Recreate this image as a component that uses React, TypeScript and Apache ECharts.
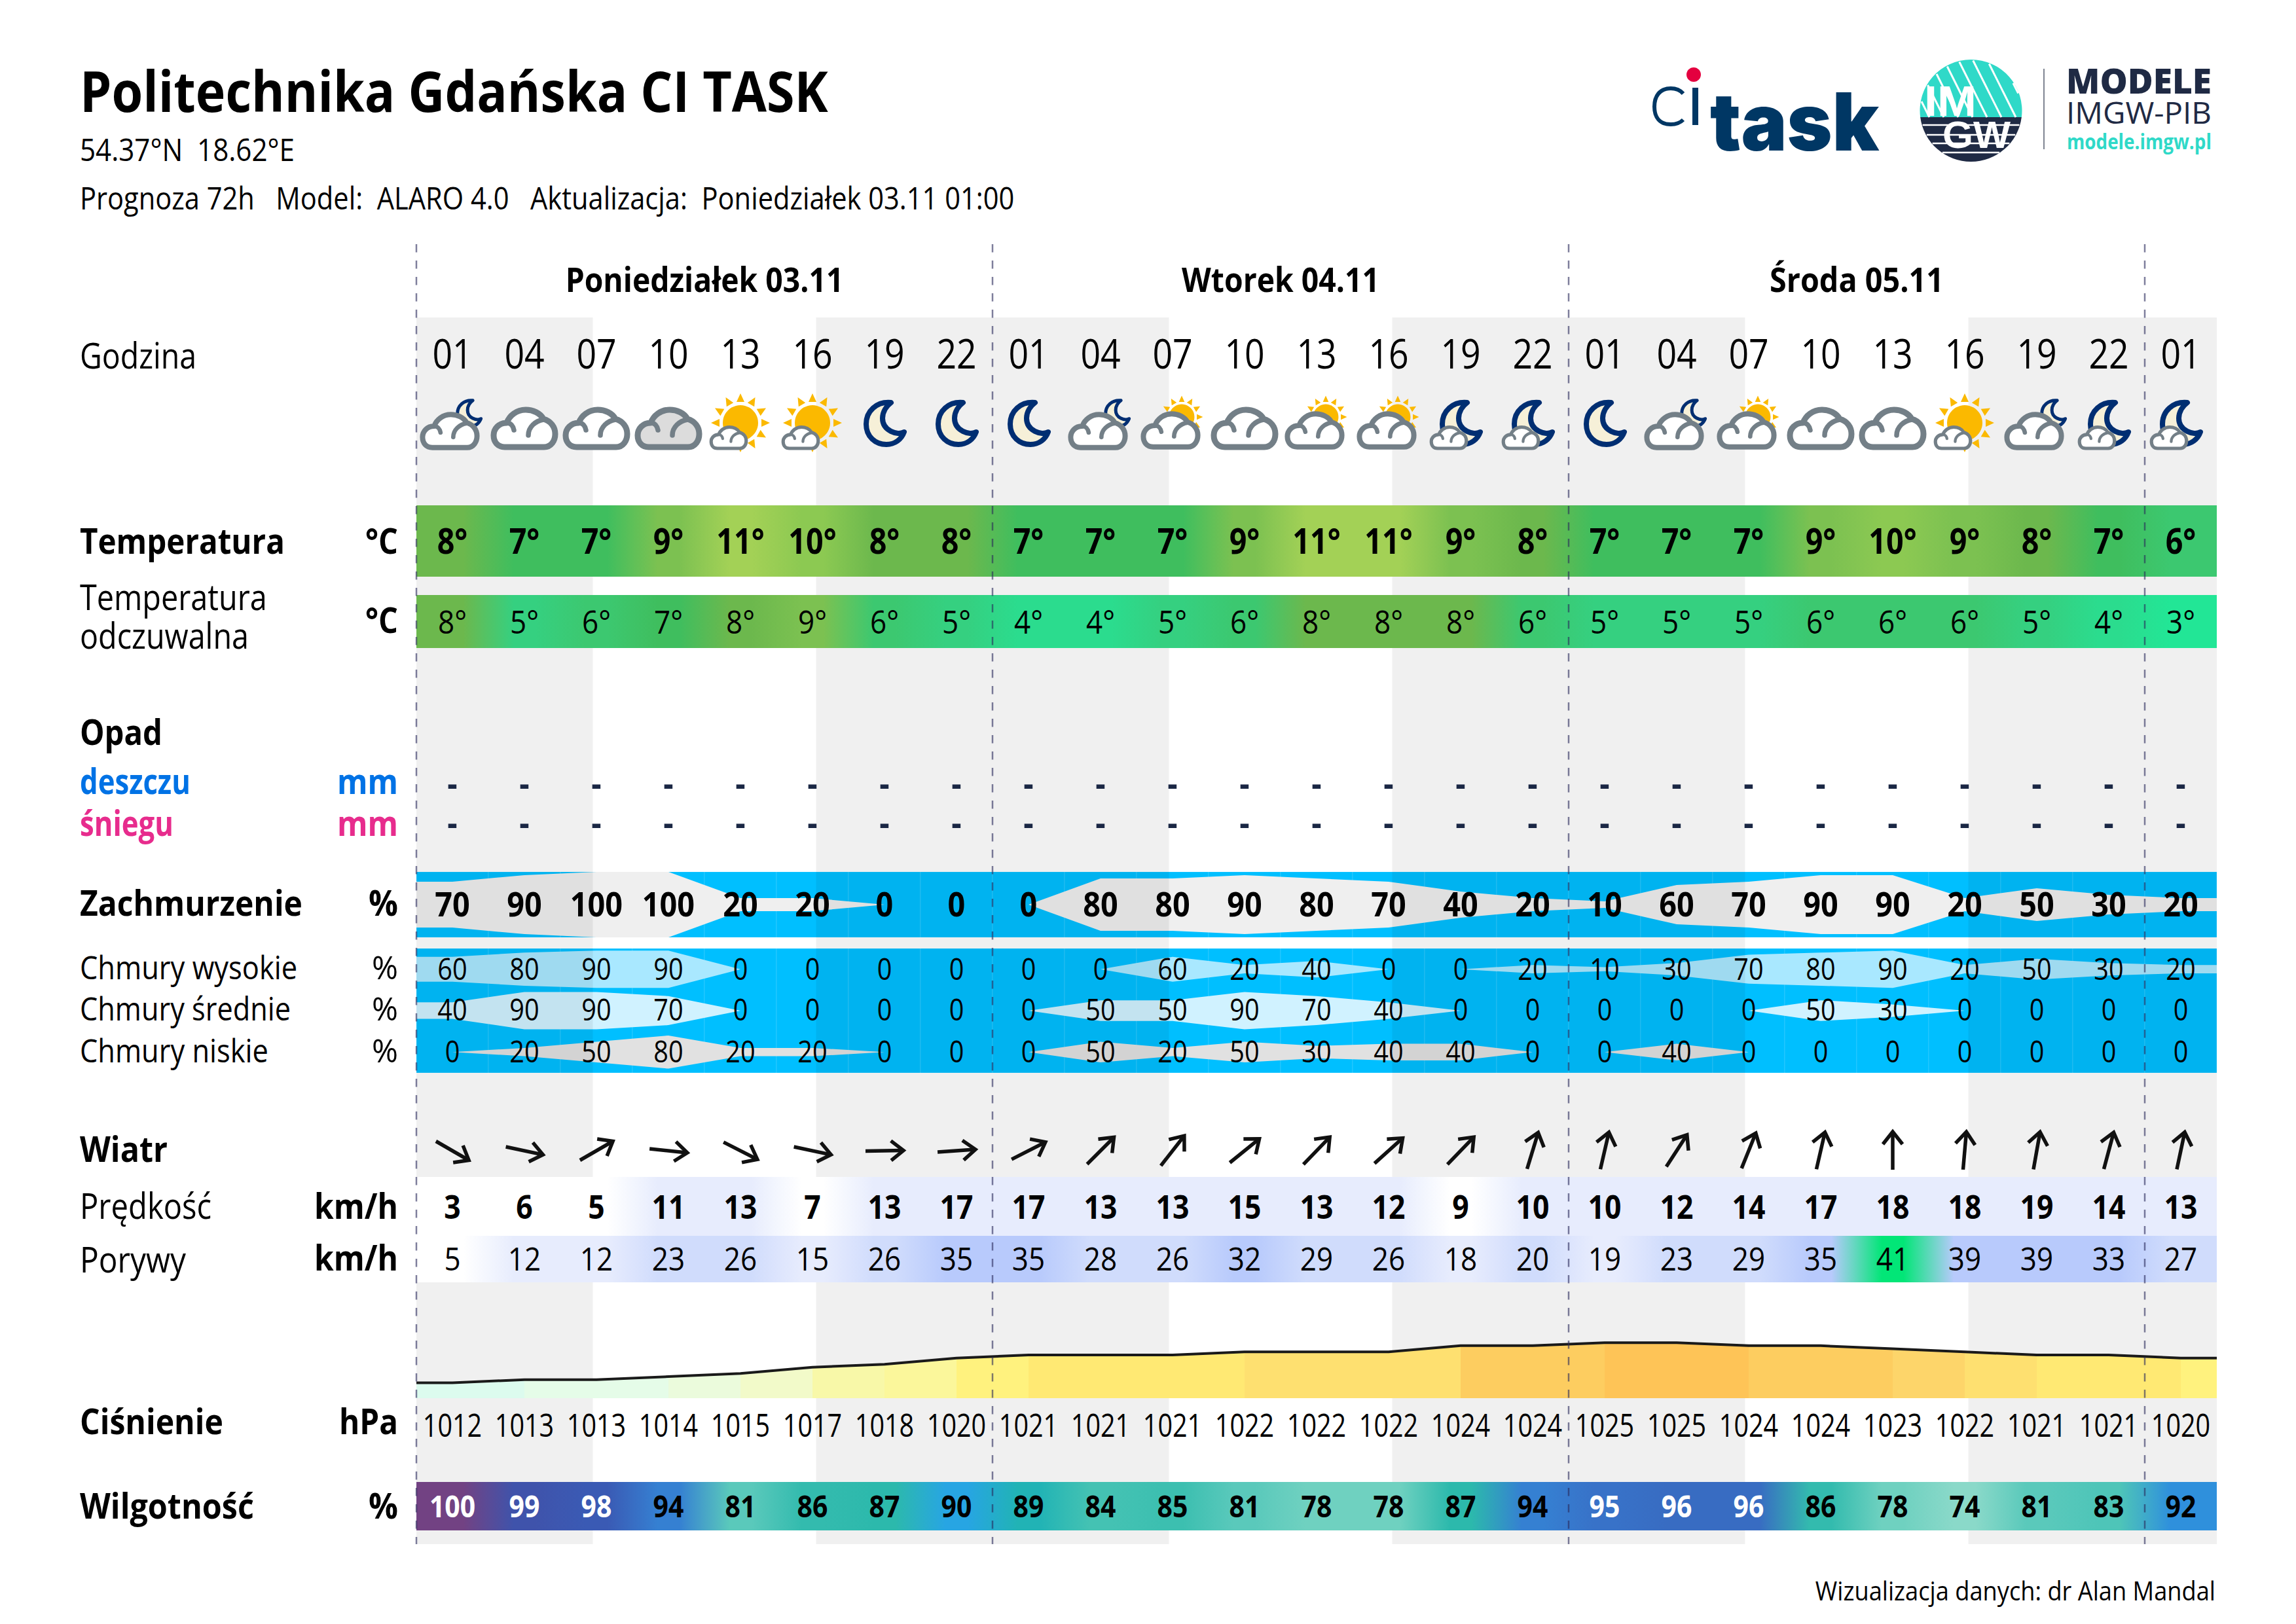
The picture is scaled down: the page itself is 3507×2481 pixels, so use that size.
import React, { useEffect, useRef } from "react";
import * as echarts from "echarts";

const hours = ["01","04","07","10","13","16","19","22","01","04","07","10","13","16","19","22","01","04","07","10","13","16","19","22","01"];
const iconKinds = ["cm","c","c","g","s","s","m","m","m","cm","cs","c","cs","cs","mc","mc","m","cm","cs","c","c","s","cm","mc","mc"];
const dayLabels = ["Poniedziałek 03.11","Wtorek 04.11","Środa 05.11"];
const dayCentres = [4, 12, 20];
const dayWidths = [425, 302, 266];
const dayBoundaries = [0, 8, 16, 24];
const nightSpans = [[0, 2.45],[5.55, 10.45],[13.55, 18.45],[21.55, 25]];
const temperature = [8,7,7,9,11,10,8,8,7,7,7,9,11,11,9,8,7,7,7,9,10,9,8,7,6];
const feelsLike = [8,5,6,7,8,9,6,5,4,4,5,6,8,8,8,6,5,5,5,6,6,6,5,4,3];
const rain = hours.map(() => "-");
const snow = hours.map(() => "-");
const cloudTotal = [70,90,100,100,20,20,0,0,0,80,80,90,80,70,40,20,10,60,70,90,90,20,50,30,20];
const cloudHigh = [60,80,90,90,0,0,0,0,0,0,60,20,40,0,0,20,10,30,70,80,90,20,50,30,20];
const cloudMid = [40,90,90,70,0,0,0,0,0,50,50,90,70,40,0,0,0,0,0,50,30,0,0,0,0];
const cloudLow = [0,20,50,80,20,20,0,0,0,50,20,50,30,40,40,0,0,40,0,0,0,0,0,0,0];
const windAngle = [30,12,-30,6,27,12,-1,-4,-27,-45,-52,-39,-46,-42,-46,-73,-77,-57,-68,-77,-90,-85,-80,-75,-78];
const windSpeed = [3,6,5,11,13,7,13,17,17,13,13,15,13,12,9,10,10,12,14,17,18,18,19,14,13];
const windGust = [5,12,12,23,26,15,26,35,35,28,26,32,29,26,18,20,19,23,29,35,41,39,39,33,27];
const pressure = [1012,1013,1013,1014,1015,1017,1018,1020,1021,1021,1021,1022,1022,1022,1024,1024,1025,1025,1024,1024,1023,1022,1021,1021,1020];
const humidity = [100,99,98,94,81,86,87,90,89,84,85,81,78,78,87,94,95,96,96,86,78,74,81,83,92];

const tempColors: Record<number,string> = {3:"#22e696",4:"#2bdc8e",5:"#35d080",6:"#3cc870",7:"#3fbe5e",8:"#6cb84d",9:"#7cc151",10:"#8cc952",11:"#a3d156"};
const humColors: Record<number,string> = {100:"#724283",99:"#3f53ab",98:"#3a5ab4",96:"#386cc2",95:"#3872c8",94:"#3580d2",92:"#2f90dc",90:"#27a5e3",89:"#21b3b5",87:"#2cb9ac",86:"#33bbae",85:"#3cbfb0",84:"#44c2b3",83:"#4ec5b8",81:"#5ac9bb",78:"#6fd1c0",74:"#8ad9c9"};
const pressColors: Record<number,string> = {1012:"#dcfbee",1013:"#e5fce8",1014:"#ebfbdc",1015:"#f2fac9",1017:"#f8f8a8",1018:"#fbf79b",1020:"#fff27e",1021:"#ffe973",1022:"#fee070",1023:"#fdd56a",1024:"#fdcd60",1025:"#fec457"};
const windColor = (v: number) => v >= 40 ? "#02e677" : v >= 30 ? "#b8cafc" : v >= 20 ? "#d0dcfc" : v >= 10 ? "#e7ecfd" : "#ffffff";

const FONT = '"Open Sans"';
const LEFT = 636, WIDTH = 2750, COLS = 25;
const NAVY = "#1f2a44", TEAL = "#2fd9c8", TASK = "#003764";

const ctx = document.createElement("canvas").getContext("2d") as CanvasRenderingContext2D;
function fit(text: string, size: number, bold: boolean | string, width: number, family = FONT) {
  ctx.font = `${bold === true ? "bold" : bold === false ? "normal" : bold} ${size}px ${family}`;
  return width / ctx.measureText(text).width;
}
function textEl(x: number, baseline: number, text: string, o: any) {
  const size = o.size;
  return {
    type: "text", x, y: baseline - size * 0.388, scaleX: o.sx ?? 1, scaleY: o.sy ?? 1, silent: true,
    style: {
      text, fill: o.fill ?? "#000", fontFamily: o.family ?? FONT, fontSize: size, fontWeight: o.weight ?? (o.bold ? "bold" : "normal"),
      align: o.align ?? "left", textAlign: o.align ?? "left", verticalAlign: "middle", textVerticalAlign: "middle",
    },
  };
}

function mix(a: string, b: string, t: number) {
  const p = (h: string) => [1, 3, 5].map((k) => parseInt(h.slice(k, k + 2), 16));
  const A = p(a), B = p(b);
  return "rgb(" + A.map((v, i) => Math.round(v + (B[i] - v) * t)).join(",") + ")";
}

const CLOUD = "M -30 28 L 30 28 C 41 28 47 18 47 8 C 47 -3 40 -12 29 -15 C 24 -24 13 -29 2 -29 C -12 -29 -23 -20 -27 -9 C -39 -9 -47 0 -47 10 C -47 20 -41 28 -30 28 Z";
const CLOUD_ARCS = "M -27 -9 C -21 -9 -17 -4 -16 2 M 6 10 C 6 -3 17 -12 29 -14";
const MOON = "M 10 -31 C -12 -33 -28 -18 -28 2 C -28 21 -14 33 3 33 C 16 33 26 25 30 14 C 20 20 -3 12 -3 -7 C -3 -17 3 -26 10 -31 Z";
const RAYS = Array.from({ length: 12 }, (_, k) => {
  const a = (k * Math.PI) / 6, c = Math.cos(a), s = Math.sin(a);
  const f = (n: number) => n.toFixed(1);
  return `M ${f(45 * c)} ${f(45 * s)} L ${f(32 * c - 6 * s)} ${f(32 * s + 6 * c)} L ${f(32 * c + 6 * s)} ${f(32 * s - 6 * c)} Z`;
}).join(" ");

function cloudEl(dx: number, dy: number, s: number, fill: string) {
  return { type: "group", x: dx, y: dy, scaleX: s, scaleY: s, children: [
    { type: "path", shape: { pathData: CLOUD }, style: { fill, stroke: "#737f87", lineWidth: 9, lineJoin: "round" } },
    { type: "path", shape: { pathData: CLOUD_ARCS }, style: { fill: "none", stroke: "#737f87", lineWidth: 7.5, lineCap: "round" } },
  ] };
}
function moonEl(dx: number, dy: number, s: number) {
  return { type: "group", x: dx, y: dy, scaleX: s, scaleY: s, children: [
    { type: "path", shape: { pathData: MOON }, style: { fill: "#f6f0d8", stroke: "#002e72", lineWidth: 8, lineJoin: "round" } },
  ] };
}
function sunEl(dx: number, dy: number, s: number) {
  return { type: "group", x: dx, y: dy, scaleX: s, scaleY: s, children: [
    { type: "circle", shape: { cx: 0, cy: 0, r: 27 }, style: { fill: "#fbb900" } },
    { type: "path", shape: { pathData: RAYS }, style: { fill: "#fbb900" } },
  ] };
}
function iconChildren(kind: string) {
  switch (kind) {
    case "c": return [cloudEl(0, 0, 1, "#ffffff")];
    case "g": return [cloudEl(0, 0, 1, "#dcdcdc")];
    case "m": return [moonEl(0, -9, 1)];
    case "s": return [sunEl(0, -9, 1), cloudEl(-18, 14, 0.57, "#ffffff")];
    case "cm": return [moonEl(25, -24, 0.62), cloudEl(-4, 4, 0.885, "#ffffff")];
    case "cs": return [sunEl(14, -18, 0.72), cloudEl(-3, 3, 0.885, "#ffffff")];
    default: return [moonEl(0, -9, 1), cloudEl(-18, 14, 0.57, "#ffffff")];
  }
}

const cx0 = 3010.5, cy0 = 169, R0 = 78, split = 179;
const dxSplit = Math.sqrt(R0 * R0 - (split - cy0) * (split - cy0));
echarts.graphic.registerShape("imgwTop", echarts.graphic.extendPath(`M ${cx0 - dxSplit} ${split} A ${R0} ${R0} 0 1 1 ${cx0 + dxSplit} ${split} Z`, {}));
echarts.graphic.registerShape("imgwBottom", echarts.graphic.extendPath(`M ${cx0 - dxSplit} ${split} A ${R0} ${R0} 0 0 0 ${cx0 + dxSplit} ${split} Z`, {}));
echarts.graphic.registerShape("ciC", echarts.graphic.extendPath("M 2571 143 C 2565 136 2558 135 2552 135 C 2535 135 2527 147 2527 163 C 2527 179 2535 190 2552 190 C 2558 190 2566 188 2571 183", {}));

function logoElements() {
  const els: any[] = [];
  els.push({ type: "ciC", x: 0, y: 0, silent: true, style: { fill: "none", stroke: TASK, lineWidth: 6 } });
  els.push({ type: "rect", shape: { x: 2585, y: 134, width: 9, height: 57 }, style: { fill: TASK } });
  els.push({ type: "ellipse", shape: { cx: 2587, cy: 114, rx: 11, ry: 11 }, style: { fill: "#e4003f" } });
  els.push(textEl(2612, 233, "task", { size: 122, weight: 900, family: "Inter", fill: TASK, sx: fit("task", 122, "900", 258, "Inter") }));
  els.push({ type: "imgwTop", x: 0, y: 0, style: { fill: TEAL } });
  els.push({ type: "imgwBottom", x: 0, y: 0, style: { fill: NAVY } });
  for (let k = -2; k < 11; k++) {
    const xb = 2925 + k * 22, m = 0.5;
    const pts: number[] = [];
    for (let y = cy0 - R0; y <= split; y += 0.5) {
      const x = xb - (split - y) * m;
      if ((x - cx0) ** 2 + (y - cy0) ** 2 <= (R0 - 1) ** 2) pts.push(y);
    }
    if (pts.length > 1) {
      const y1 = pts[0], y2 = pts[pts.length - 1];
      els.push({ type: "line", shape: { x1: xb - (split - y1) * m, y1, x2: xb - (split - y2) * m, y2 }, style: { stroke: "#ffffff", lineWidth: 3 } });
    }
  }
  [191, 206, 219, 233].forEach((y) => {
    const half = Math.sqrt(R0 * R0 - (y - cy0) * (y - cy0)) - 1;
    els.push({ type: "line", shape: { x1: cx0 - half, y1: y, x2: cx0 + half, y2: y }, style: { stroke: "#ffffff", lineWidth: 2.5 } });
  });
  const LS = '"Liberation Sans"';
  els.push(textEl(2979, 179, "IM", { size: 64, bold: true, family: LS, align: "center", fill: "#fff", sx: fit("IM", 64, true, 80, LS) }));
  els.push(textEl(3019, 228, "GW", { size: 57, bold: true, family: LS, align: "center", fill: "#fff", sx: fit("GW", 57, true, 104, LS) }));
  els.push({ type: "line", shape: { x1: 3122, y1: 105, x2: 3122, y2: 228 }, style: { stroke: "#555c6e", lineWidth: 1.5 } });
  els.push(textEl(3156, 143, "MODELE", { size: 53, weight: 800, fill: NAVY, sx: fit("MODELE", 53, "800", 222) }));
  els.push(textEl(3156, 189, "IMGW-PIB", { size: 46, weight: 400, fill: NAVY, sx: fit("IMGW-PIB", 46, "400", 222) }));
  els.push(textEl(3157, 228, "modele.imgw.pl", { size: 32, bold: true, fill: TEAL, sx: fit("modele.imgw.pl", 32, true, 221) }));
  return els;
}

function labelEls() {
  const rows: [string, number, number, boolean, number, string?][] = [
    ["Politechnika Gdańska CI TASK", 171, 87, true, 1143],
    ["54.37°N  18.62°E", 246, 47, false, 328],
    ["Prognoza 72h   Model:  ALARO 4.0   Aktualizacja:  Poniedziałek 03.11 01:00", 320, 47, false, 1428],
    ["Godzina", 563, 55, false, 178],
    ["Temperatura", 846, 53, true, 313],
    ["Temperatura", 932, 55, false, 286],
    ["odczuwalna", 991, 55, false, 258],
    ["Opad", 1138, 53, true, 126],
    ["deszczu", 1213, 53, true, 169, "#0072e5"],
    ["śniegu", 1277, 53, true, 143, "#e72c8d"],
    ["Zachmurzenie", 1399, 53, true, 340],
    ["Chmury wysokie", 1496, 50, false, 332],
    ["Chmury średnie", 1559, 50, false, 322],
    ["Chmury niskie", 1623, 50, false, 288],
    ["Wiatr", 1775, 53, true, 134],
    ["Prędkość", 1862, 55, false, 201],
    ["Porywy", 1944, 55, false, 162],
    ["Ciśnienie", 2191, 53, true, 219],
    ["Wilgotność", 2320, 53, true, 266],
  ];
  const units: [string, number, number, boolean, number, string?][] = [
    ["°C", 846, 53, true, 50],
    ["°C", 967, 53, true, 50],
    ["mm", 1213, 53, true, 93, "#0072e5"],
    ["mm", 1277, 53, true, 93, "#e72c8d"],
    ["%", 1399, 53, true, 45],
    ["%", 1496, 50, false, 40],
    ["%", 1559, 50, false, 40],
    ["%", 1623, 50, false, 40],
    ["km/h", 1862, 53, true, 128],
    ["km/h", 1941, 53, true, 128],
    ["hPa", 2191, 53, true, 90],
    ["%", 2320, 53, true, 45],
  ];
  const els = rows.map(([t, b, s, bold, w, c]) => textEl(122, b, t, { size: s, bold, fill: c ?? "#000", sx: fit(t, s, bold, w) }));
  units.forEach(([t, b, s, bold, w, c]) => els.push(textEl(608, b, t, { size: s, bold, align: "right", fill: c ?? "#000", sx: fit(t, s, bold, w) })));
  els.push(textEl(3384, 2445, "Wizualizacja danych: dr Alan Mandal", { size: 40, align: "right", sx: fit("Wizualizacja danych: dr Alan Mandal", 40, false, 611) }));
  return els;
}

const MAIN = { xAxisIndex: 0, yAxisIndex: 0, coordinateSystem: "cartesian2d", type: "custom", silent: true, clip: false };

function textSeries(strs: (string | number)[], baseline: number, o: any, z = 60) {
  return {
    ...MAIN, z,
    data: strs.map((_, i) => [i + 0.5, baseline]),
    renderItem: (p: any, api: any) => {
      const c = api.coord([api.value(0), api.value(1)]);
      const v = strs[p.dataIndex];
      return textEl(c[0], c[1], o.suffix ? v + o.suffix : String(v), { ...o, align: "center", fill: o.fillFn ? o.fillFn(v) : o.fill });
    },
  };
}
function gradientBand(values: number[], colorOf: (v: number) => string, top: number, bottom: number) {
  return {
    ...MAIN, z: 40,
    data: values.map((v, i) => [i, v]),
    renderItem: (p: any, api: any) => {
      const i = p.dataIndex;
      const a = api.coord([i, top]), b = api.coord([i + 1, bottom]);
      const cur = colorOf(values[i]);
      const prev = colorOf(values[Math.max(i - 1, 0)]), next = colorOf(values[Math.min(i + 1, COLS - 1)]);
      return {
        type: "rect", shape: { x: a[0], y: a[1], width: b[0] - a[0], height: b[1] - a[1] },
        style: { fill: { type: "linear", x: 0, y: 0, x2: 1, y2: 0, colorStops: [
          { offset: 0, color: mix(prev, cur, 0.5) }, { offset: 0.35, color: cur }, { offset: 0.65, color: cur }, { offset: 1, color: mix(cur, next, 0.5) },
        ] } },
      };
    },
  };
}
function cloudBase(top: number, bottom: number) {
  return {
    ...MAIN, z: 10,
    data: hours.map((_, i) => [i, top]),
    renderItem: (p: any, api: any) => {
      const a = api.coord([p.dataIndex, top]), b = api.coord([p.dataIndex + 1, bottom]);
      return { type: "rect", shape: { x: a[0], y: a[1], width: b[0] - a[0], height: b[1] - a[1] }, style: { fill: "#00bfff", stroke: "rgba(255,255,255,0.14)", lineWidth: 1 } };
    },
  };
}
// symmetric ribbon: half of the value above and half below the centre of the row
function cloudSeries(values: number[], idx: number, color: string) {
  const xs = [0, ...values.map((_, i) => i + 0.5), COLS];
  const vs = [values[0], ...values, values[values.length - 1]];
  return {
    type: "custom", coordinateSystem: "cartesian2d", xAxisIndex: idx, yAxisIndex: idx, silent: true, clip: false, z: 20,
    data: xs.slice(0, -1).map((x, i) => [x, vs[i]]),
    renderItem: (p: any, api: any) => {
      const i = p.dataIndex;
      if (vs[i] === 0 && vs[i + 1] === 0) return null;
      const pts = [
        api.coord([xs[i], 50 + vs[i] / 2]), api.coord([xs[i + 1], 50 + vs[i + 1] / 2]),
        api.coord([xs[i + 1], 50 - vs[i + 1] / 2]), api.coord([xs[i], 50 - vs[i] / 2]),
      ];
      return { type: "polygon", shape: { points: pts }, style: { fill: color } };
    },
  };
}

export default function App() {
  const ref = useRef<HTMLDivElement>(null);
  useEffect(() => {
    document.body.style.margin = "0";
    const chart = echarts.init(ref.current!, null, { renderer: "svg" });
    const gridDefs = [
      { top: 0, height: 2481, y: [0, 2481], inverse: true },
      { top: 1332, height: 100, y: [0, 100] },
      { top: 1449, height: 63.3, y: [0, 100] },
      { top: 1512.3, height: 63.3, y: [0, 100] },
      { top: 1575.6, height: 63.3, y: [0, 100] },
      { top: 2004, height: 132, y: [1007, 1035] },
    ];
    const option: any = {
      animation: false,
      backgroundColor: "#ffffff",
      grid: gridDefs.map((g) => ({ left: LEFT, width: WIDTH, top: g.top, height: g.height, show: false })),
      xAxis: gridDefs.map((_, i) => ({ type: "value", gridIndex: i, min: 0, max: COLS, show: false })),
      yAxis: gridDefs.map((g, i) => ({ type: "value", gridIndex: i, min: g.y[0], max: g.y[1], inverse: !!g.inverse, show: false })),
      graphic: { elements: [...labelEls(), ...logoElements()] },
      series: [
        cloudBase(1332, 1432),
        cloudBase(1449, 1639),
        cloudSeries(cloudTotal, 1, "#efefef"),
        cloudSeries(cloudHigh, 2, "#a9e8ff"),
        cloudSeries(cloudMid, 3, "#d0f2ff"),
        cloudSeries(cloudLow, 4, "#e1e1e1"),
        {
          ...MAIN, z: 30, data: nightSpans,
          renderItem: (_: any, api: any) => {
            const a = api.coord([api.value(0), 485]), b = api.coord([api.value(1), 2359]);
            return { type: "rect", shape: { x: a[0], y: a[1], width: b[0] - a[0], height: b[1] - a[1] }, style: { fill: "rgba(0,0,0,0.06)" } };
          },
        },
        gradientBand(temperature, (v) => tempColors[v], 772, 881),
        gradientBand(feelsLike, (v) => tempColors[v], 909, 990),
        gradientBand(windSpeed, windColor, 1798, 1888),
        gradientBand(windGust, windColor, 1888, 1959),
        gradientBand(humidity, (v) => humColors[v], 2264, 2338),
        {
          type: "custom", coordinateSystem: "cartesian2d", xAxisIndex: 5, yAxisIndex: 5, z: 40, silent: true, clip: false,
          data: [...pressure.map((v, i) => [i, v]), [COLS, pressure[COLS - 1]]],
          renderItem: (p: any, api: any) => {
            const i = p.dataIndex;
            const pt = (k: number) => (k < 0 ? [0, pressure[0]] : k >= COLS ? [COLS, pressure[COLS - 1]] : [k + 0.5, pressure[k]]);
            const A = pt(i - 1), B = pt(i);
            const c1 = api.coord(A), c2 = api.coord(B), b1 = api.coord([A[0], 1007]), b2 = api.coord([B[0], 1007]);
            const color = pressColors[pressure[Math.max(i - 1, 0)]];
            return { type: "polygon", shape: { points: [c1, c2, b2, b1] }, style: { fill: color } };
          },
        },
        {
          type: "line", xAxisIndex: 5, yAxisIndex: 5, z: 45, symbol: "none", silent: true, clip: false,
          lineStyle: { color: "#1a1a1a", width: 4 },
          data: [[0, pressure[0]], ...pressure.map((v, i) => [i + 0.5, v]), [COLS, pressure[COLS - 1]]],
        },
        {
          ...MAIN, z: 50, data: dayBoundaries.map((d) => [d, 373]),
          renderItem: (_: any, api: any) => {
            const a = api.coord([api.value(0), 373]), b = api.coord([api.value(0), 2359]);
            return { type: "line", shape: { x1: a[0], y1: a[1], x2: b[0], y2: b[1] }, style: { stroke: "rgba(40,40,90,0.6)", lineWidth: 2.5, lineDash: [12.5, 12.5] } };
          },
        },
        {
          ...MAIN, z: 60, data: dayCentres.map((d) => [d, 446]),
          renderItem: (p: any, api: any) => {
            const c = api.coord([api.value(0), api.value(1)]);
            const t = dayLabels[p.dataIndex];
            return textEl(c[0], c[1], t, { size: 52, bold: true, align: "center", sx: fit(t, 52, true, dayWidths[p.dataIndex]) });
          },
        },
        {
          ...MAIN, z: 60, data: iconKinds.map((_, i) => [i + 0.5, 655]),
          renderItem: (p: any, api: any) => {
            const c = api.coord([api.value(0), api.value(1)]);
            return { type: "group", x: c[0], y: c[1], children: iconChildren(iconKinds[p.dataIndex]) };
          },
        },
        {
          ...MAIN, z: 60, data: windAngle.map((_, i) => [i + 0.5, 1758]),
          renderItem: (p: any, api: any) => {
            const c = api.coord([api.value(0), api.value(1)]);
            const style = { stroke: "#111111", fill: "none", lineWidth: 5.5, lineJoin: "miter" };
            return { type: "group", x: c[0], y: c[1], rotation: (-windAngle[p.dataIndex] * Math.PI) / 180, children: [
              { type: "line", shape: { x1: -29, y1: 0, x2: 28, y2: 0 }, style },
              { type: "polyline", shape: { points: [[10, -15], [29, 0], [10, 15]] }, style },
            ] };
          },
        },
        textSeries(hours, 563, { size: 63, sx: 0.85 }),
        textSeries(temperature, 846, { size: 53, bold: true, sx: 0.88, suffix: "°" }),
        textSeries(feelsLike, 968, { size: 50, sx: 0.88, suffix: "°" }),
        textSeries(rain, 1216, { size: 53, bold: true, sx: 0.9, fill: "#1a2744" }),
        textSeries(snow, 1276, { size: 53, bold: true, sx: 0.9, fill: "#1a2744" }),
        textSeries(cloudTotal, 1400, { size: 52, bold: true, sx: 0.9 }),
        textSeries(cloudHigh, 1497, { size: 45, sx: 0.88 }),
        textSeries(cloudMid, 1559, { size: 45, sx: 0.88 }),
        textSeries(cloudLow, 1623, { size: 45, sx: 0.88 }),
        textSeries(windSpeed, 1862, { size: 50, bold: true, sx: 0.89 }),
        textSeries(windGust, 1941, { size: 50, sx: 0.88 }),
        textSeries(pressure, 2195, { size: 50, sx: 0.79 }),
        textSeries(humidity, 2318, { size: 46, bold: true, sx: 0.89, fillFn: (v: number) => (v >= 95 ? "#ffffff" : "#000000") }),
      ],
    };
    chart.setOption(option);
    return () => chart.dispose();
  }, []);
  return <div ref={ref} style={{ position: "absolute", left: 0, top: 0, width: 3507, height: 2481, background: "#fff" }} />;
}
